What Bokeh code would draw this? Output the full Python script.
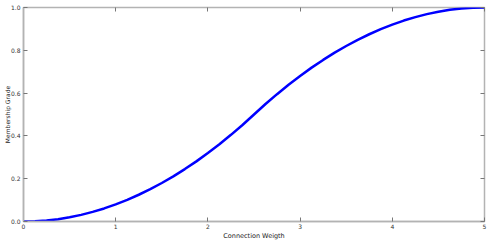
from bokeh.plotting import figure
from bokeh.models import LinearAxis, Range1d, FixedTicker, CustomLabelingPolicy
from bokeh.embed import file_html
from bokeh.resources import INLINE

weights = [0.0, 0.125, 0.25, 0.375, 0.5, 0.625, 0.75, 0.875, 1.0, 1.125, 1.25, 1.375, 1.5,
           1.625, 1.75, 1.875, 2.0, 2.125, 2.25, 2.375, 2.5, 2.625, 2.75, 2.875, 3.0,
           3.125, 3.25, 3.375, 3.5, 3.625, 3.75, 3.875, 4.0, 4.125, 4.25, 4.375, 4.5,
           4.625, 4.75, 4.875, 5.0]
grades = [0.0, 0.001, 0.005, 0.011, 0.02, 0.031, 0.045, 0.061, 0.08, 0.101, 0.125, 0.151, 0.18,
          0.211, 0.245, 0.281, 0.32, 0.361, 0.405, 0.451, 0.5, 0.549, 0.595, 0.639, 0.68,
          0.719, 0.755, 0.789, 0.82, 0.849, 0.875, 0.899, 0.92, 0.939, 0.955, 0.969, 0.98,
          0.989, 0.995, 0.999, 1.0]
x_ticks = [0, 1, 2, 3, 4, 5]
y_ticks = [0.0, 0.2, 0.4, 0.6, 0.8, 1.0]

FRAME = "#b3b3b3"
FONT = "DejaVu Sans"

p = figure(width=490, height=242, output_backend="svg", toolbar_location=None,
           x_range=Range1d(0, 5), y_range=Range1d(0, 1),
           min_border_left=0, min_border_right=6, min_border_top=7, min_border_bottom=0)
p.background_fill_color = "white"
p.border_fill_color = "white"
p.outline_line_color = FRAME
p.outline_line_width = 1.5
p.grid.visible = False

p.line(weights, grades, line_color="#0000ff", line_width=2.5)

for ax in (p.xaxis[0], p.yaxis[0]):
    ax.axis_line_color = FRAME
    ax.axis_line_width = 1.5
    ax.major_tick_line_color = "#777777"
    ax.major_tick_in = 4
    ax.major_tick_out = 0
    ax.minor_tick_line_color = None
    ax.major_label_text_font = FONT
    ax.major_label_text_font_size = "6px"
    ax.major_label_text_color = "#333333"
    ax.axis_label_text_font = FONT
    ax.axis_label_text_font_size = "6.5px"
    ax.axis_label_text_font_style = "normal"
    ax.axis_label_text_color = "#222222"
    ax.major_label_standoff = 2
    ax.axis_label_standoff = 0

p.yaxis[0].axis_label_standoff = -3
p.yaxis[0].axis_label_text_font_size = "6px"
p.yaxis[0].major_label_standoff = 3
p.xaxis[0].ticker = FixedTicker(ticks=x_ticks)
p.yaxis[0].ticker = FixedTicker(ticks=y_ticks)
p.xaxis[0].axis_label = "Connection Weigth"
p.yaxis[0].axis_label = "Membership Grade"
p.xaxis[0].major_label_overrides = {t: str(t) for t in x_ticks}
p.yaxis[0].major_label_overrides = {t: f"{t:.1f}" for t in y_ticks}

no_labels = "for (const i of Array.from(indices)) indices.unset(i)"
top = LinearAxis(ticker=FixedTicker(ticks=x_ticks),
                 major_label_policy=CustomLabelingPolicy(code=no_labels),
                 axis_line_color=None, major_tick_in=4, major_tick_out=0,
                 major_tick_line_color="#777777", minor_tick_line_color=None,
                 major_label_standoff=0, major_label_text_font_size="1px")
right = LinearAxis(ticker=FixedTicker(ticks=y_ticks),
                   major_label_policy=CustomLabelingPolicy(code=no_labels),
                   axis_line_color=None, major_tick_in=4, major_tick_out=0,
                   major_tick_line_color="#777777", minor_tick_line_color=None,
                   major_label_standoff=0, major_label_text_font_size="1px")
p.add_layout(top, "above")
p.add_layout(right, "right")

open("out.html", "w").write(file_html(p, INLINE))
